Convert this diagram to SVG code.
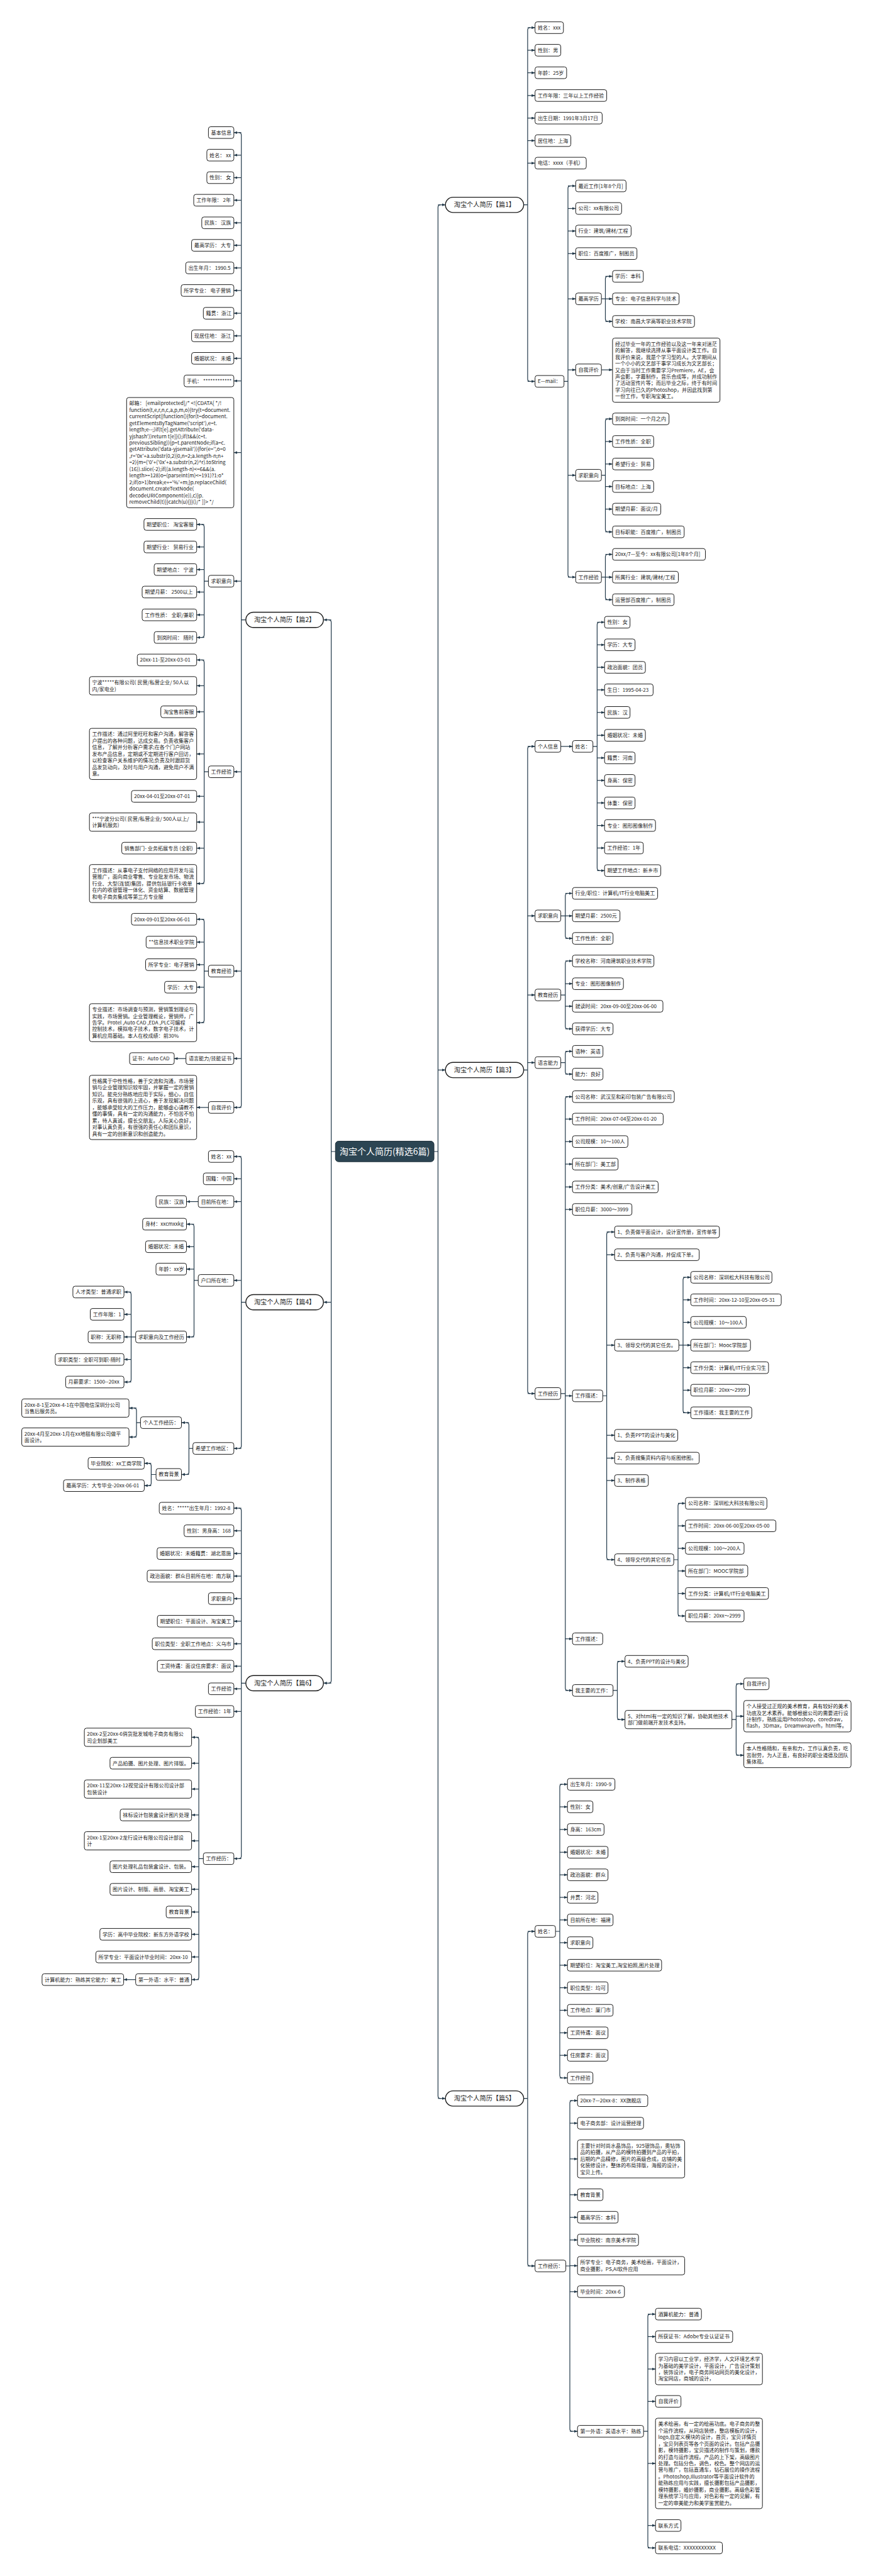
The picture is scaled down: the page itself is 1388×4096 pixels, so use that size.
<svg xmlns="http://www.w3.org/2000/svg" width="1388" height="4096" viewBox="0 0 1388 4096">
<style>
.n rect{fill:#fff;stroke:#1c1c1c;stroke-width:1;rx:3.5px;ry:3.5px}
text{font-family:"Noto Sans CJK SC","Noto Sans",sans-serif;font-size:8.1px;fill:#222}
.b rect{fill:#fff;stroke:#1c1c1c;stroke-width:1.4}
.b text{font-size:10.2px;text-anchor:middle}
#root rect{fill:#2c4553;stroke:#1c2e38;stroke-width:1}
#root text{font-size:14px;fill:#fff;text-anchor:middle}
.c path{stroke:#22394a;stroke-width:1.2;fill:none}
.c line{stroke:#22394a;stroke-width:1.2;marker-end:url(#ah)}
</style>
<defs>
<marker id="ah" viewBox="0 0 10 8" refX="10" refY="4" markerWidth="5.5" markerHeight="4.5" markerUnits="userSpaceOnUse" orient="auto"><path d="M0,0 L10,4 L0,8 z" fill="#22394a"/></marker>
</defs>
<rect width="1388" height="4096" fill="#fff"/>
<g class="c" id="connectors">
<path d="M690 1831H696.4M700.4 325.7Q696.4 325.7 696.4 329.7V3332.7Q696.4 3336.7 700.4 3336.7"/>
<path d="M533.3 1831H526.6M522.6 985.6Q526.6 985.6 526.6 989.6V2672.3Q526.6 2676.3 522.6 2676.3"/>
<line x1="696.4" y1="325.7" x2="708.2" y2="325.7"/><line x1="696.4" y1="1701.4" x2="708.2" y2="1701.4"/><line x1="696.4" y1="3336.7" x2="708.2" y2="3336.7"/>
<line x1="526.6" y1="985.6" x2="514.2" y2="985.6"/><line x1="526.6" y1="2070.6" x2="514.2" y2="2070.6"/><line x1="526.6" y1="2676.3" x2="514.2" y2="2676.3"/>
<!-- p1 -->
<path d="M832.6 325.7H838.9M842.9 44Q838.9 44 838.9 48V602.4Q838.9 606.4 842.9 606.4"/>
<line x1="838.9" y1="44" x2="850.7" y2="44"/><line x1="838.9" y1="79.9" x2="850.7" y2="79.9"/><line x1="838.9" y1="115.7" x2="850.7" y2="115.7"/><line x1="838.9" y1="151.9" x2="850.7" y2="151.9"/><line x1="838.9" y1="187.8" x2="850.7" y2="187.8"/><line x1="838.9" y1="223.6" x2="850.7" y2="223.6"/><line x1="838.9" y1="259.4" x2="850.7" y2="259.4"/><line x1="838.9" y1="606.4" x2="850.7" y2="606.4"/>
<path d="M896.7 606.4H903M907 295.6Q903 295.6 903 299.6V913.7Q903 917.7 907 917.7"/>
<line x1="903" y1="295.6" x2="915.3" y2="295.6"/><line x1="903" y1="331.5" x2="915.3" y2="331.5"/><line x1="903" y1="367.3" x2="915.3" y2="367.3"/><line x1="903" y1="403.2" x2="915.3" y2="403.2"/><line x1="903" y1="475.2" x2="915.3" y2="475.2"/><line x1="903" y1="588.1" x2="915.3" y2="588.1"/><line x1="903" y1="755.7" x2="915.3" y2="755.7"/><line x1="903" y1="917.7" x2="915.3" y2="917.7"/>
<path d="M956.2 475.2H962.5M966.5 439.4Q962.5 439.4 962.5 443.4V507.1Q962.5 511.1 966.5 511.1"/>
<line x1="962.5" y1="439.4" x2="973.9" y2="439.4"/><line x1="962.5" y1="475.2" x2="973.9" y2="475.2"/><line x1="962.5" y1="511.1" x2="973.9" y2="511.1"/>
<line x1="956.2" y1="588.1" x2="973.9" y2="588.1"/>
<path d="M956.2 755.7H962.5M966.5 666.1Q962.5 666.1 962.5 670.1V841.7Q962.5 845.7 966.5 845.7"/>
<line x1="962.5" y1="666.1" x2="973.9" y2="666.1"/><line x1="962.5" y1="702" x2="973.9" y2="702"/><line x1="962.5" y1="737.8" x2="973.9" y2="737.8"/><line x1="962.5" y1="773.6" x2="973.9" y2="773.6"/><line x1="962.5" y1="809.5" x2="973.9" y2="809.5"/><line x1="962.5" y1="845.7" x2="973.9" y2="845.7"/>
<path d="M956.2 917.7H962.5M966.5 881.5Q962.5 881.5 962.5 885.5V949.6Q962.5 953.6 966.5 953.6"/>
<line x1="962.5" y1="881.5" x2="973.9" y2="881.5"/><line x1="962.5" y1="917.7" x2="973.9" y2="917.7"/><line x1="962.5" y1="953.6" x2="973.9" y2="953.6"/>
<!-- p3 -->
<path d="M832.6 1701.4H838.9M842.9 1186.8Q838.9 1186.8 838.9 1190.8V2211.8Q838.9 2215.8 842.9 2215.8"/>
<line x1="838.9" y1="1186.8" x2="850.7" y2="1186.8"/><line x1="838.9" y1="1456.3" x2="850.7" y2="1456.3"/><line x1="838.9" y1="1582.1" x2="850.7" y2="1582.1"/><line x1="838.9" y1="1689.6" x2="850.7" y2="1689.6"/><line x1="838.9" y1="2215.8" x2="850.7" y2="2215.8"/>
<line x1="891.6" y1="1186.8" x2="910.2" y2="1186.8"/>
<path d="M942.7 1186.8H949.4M953.4 989.4Q949.4 989.4 949.4 993.4V1380.3Q949.4 1384.3 953.4 1384.3"/>
<line x1="949.4" y1="989.4" x2="961.2" y2="989.4"/><line x1="949.4" y1="1025.3" x2="961.2" y2="1025.3"/><line x1="949.4" y1="1061.1" x2="961.2" y2="1061.1"/><line x1="949.4" y1="1096.9" x2="961.2" y2="1096.9"/><line x1="949.4" y1="1132.8" x2="961.2" y2="1132.8"/><line x1="949.4" y1="1169.2" x2="961.2" y2="1169.2"/><line x1="949.4" y1="1205.1" x2="961.2" y2="1205.1"/><line x1="949.4" y1="1240.9" x2="961.2" y2="1240.9"/><line x1="949.4" y1="1276.7" x2="961.2" y2="1276.7"/><line x1="949.4" y1="1312.6" x2="961.2" y2="1312.6"/><line x1="949.4" y1="1348.4" x2="961.2" y2="1348.4"/><line x1="949.4" y1="1384.3" x2="961.2" y2="1384.3"/>
<path d="M891.6 1456.3H898.8M902.8 1420.5Q898.8 1420.5 898.8 1424.5V1488.1Q898.8 1492.1 902.8 1492.1"/>
<line x1="898.8" y1="1420.5" x2="910.2" y2="1420.5"/><line x1="898.8" y1="1456.3" x2="910.2" y2="1456.3"/><line x1="898.8" y1="1492.1" x2="910.2" y2="1492.1"/>
<path d="M891.6 1582.1H898.8M902.8 1528Q898.8 1528 898.8 1532V1631.9Q898.8 1635.9 902.8 1635.9"/>
<line x1="898.8" y1="1528" x2="910.2" y2="1528"/><line x1="898.8" y1="1564.2" x2="910.2" y2="1564.2"/><line x1="898.8" y1="1600" x2="910.2" y2="1600"/><line x1="898.8" y1="1635.9" x2="910.2" y2="1635.9"/>
<path d="M891.6 1689.6H898.8M902.8 1671.7Q898.8 1671.7 898.8 1675.7V1703.9Q898.8 1707.9 902.8 1707.9"/>
<line x1="898.8" y1="1671.7" x2="910.2" y2="1671.7"/><line x1="898.8" y1="1707.9" x2="910.2" y2="1707.9"/>
<path d="M891.6 2215.8H898.8M902.8 1743.8Q898.8 1743.8 898.8 1747.8V2683.9Q898.8 2687.9 902.8 2687.9"/>
<line x1="898.8" y1="1743.8" x2="910.2" y2="1743.8"/><line x1="898.8" y1="1779.4" x2="910.2" y2="1779.4"/><line x1="898.8" y1="1815.2" x2="910.2" y2="1815.2"/><line x1="898.8" y1="1851" x2="910.2" y2="1851"/><line x1="898.8" y1="1887.3" x2="910.2" y2="1887.3"/><line x1="898.8" y1="1923.1" x2="910.2" y2="1923.1"/><line x1="898.8" y1="2219.5" x2="910.2" y2="2219.5"/><line x1="898.8" y1="2605.8" x2="910.2" y2="2605.8"/><line x1="898.8" y1="2687.9" x2="910.2" y2="2687.9"/>
<path d="M958.3 2219.5H964.6M968.6 1958.9Q964.6 1958.9 964.6 1962.9V2476Q964.6 2480 968.6 2480"/>
<line x1="964.6" y1="1958.9" x2="977.2" y2="1958.9"/><line x1="964.6" y1="1995.1" x2="977.2" y2="1995.1"/><line x1="964.6" y1="2138.9" x2="977.2" y2="2138.9"/><line x1="964.6" y1="2282.2" x2="977.2" y2="2282.2"/><line x1="964.6" y1="2318.5" x2="977.2" y2="2318.5"/><line x1="964.6" y1="2354.1" x2="977.2" y2="2354.1"/><line x1="964.6" y1="2480" x2="977.2" y2="2480"/>
<path d="M1079.3 2138.9H1086M1090 2031Q1086 2031 1086 2035V2242.4Q1086 2246.4 1090 2246.4"/>
<line x1="1086" y1="2031" x2="1098.3" y2="2031"/><line x1="1086" y1="2066.8" x2="1098.3" y2="2066.8"/><line x1="1086" y1="2102.6" x2="1098.3" y2="2102.6"/><line x1="1086" y1="2138.9" x2="1098.3" y2="2138.9"/><line x1="1086" y1="2174.7" x2="1098.3" y2="2174.7"/><line x1="1086" y1="2210.5" x2="1098.3" y2="2210.5"/><line x1="1086" y1="2246.4" x2="1098.3" y2="2246.4"/>
<path d="M1071.2 2480H1078M1082 2390.4Q1078 2390.4 1078 2394.4V2565.5Q1078 2569.5 1082 2569.5"/>
<line x1="1078" y1="2390.4" x2="1089.8" y2="2390.4"/><line x1="1078" y1="2426.2" x2="1089.8" y2="2426.2"/><line x1="1078" y1="2462" x2="1089.8" y2="2462"/><line x1="1078" y1="2497.9" x2="1089.8" y2="2497.9"/><line x1="1078" y1="2533.7" x2="1089.8" y2="2533.7"/><line x1="1078" y1="2569.5" x2="1089.8" y2="2569.5"/>
<path d="M974.7 2687.9H981.5M985.5 2641.6Q981.5 2641.6 981.5 2645.6V2730.2Q981.5 2734.2 985.5 2734.2"/>
<line x1="981.5" y1="2641.6" x2="993.7" y2="2641.6"/><line x1="981.5" y1="2734.2" x2="993.7" y2="2734.2"/>
<path d="M1163.7 2734.2H1170.4M1174.4 2677.4Q1170.4 2677.4 1170.4 2681.4V2786.9Q1170.4 2790.9 1174.4 2790.9"/>
<line x1="1170.4" y1="2677.4" x2="1182.6" y2="2677.4"/><line x1="1170.4" y1="2728.9" x2="1182.6" y2="2728.9"/><line x1="1170.4" y1="2790.9" x2="1182.6" y2="2790.9"/>
<!-- p5 -->
<path d="M832.6 3336.7H838.9M842.9 3071Q838.9 3071 838.9 3075V3599Q838.9 3603 842.9 3603"/>
<line x1="838.9" y1="3071" x2="850.7" y2="3071"/><line x1="838.9" y1="3603" x2="850.7" y2="3603"/>
<path d="M883.2 3071H890M894 2837.2Q890 2837.2 890 2841.2V3300Q890 3304 894 3304"/>
<line x1="890" y1="2837.2" x2="902.2" y2="2837.2"/><line x1="890" y1="2873" x2="902.2" y2="2873"/><line x1="890" y1="2909" x2="902.2" y2="2909"/><line x1="890" y1="2945.2" x2="902.2" y2="2945.2"/><line x1="890" y1="2981.1" x2="902.2" y2="2981.1"/><line x1="890" y1="3016.9" x2="902.2" y2="3016.9"/><line x1="890" y1="3052.8" x2="902.2" y2="3052.8"/><line x1="890" y1="3089" x2="902.2" y2="3089"/><line x1="890" y1="3124.8" x2="902.2" y2="3124.8"/><line x1="890" y1="3160.6" x2="902.2" y2="3160.6"/><line x1="890" y1="3196.5" x2="902.2" y2="3196.5"/><line x1="890" y1="3232.3" x2="902.2" y2="3232.3"/><line x1="890" y1="3268.1" x2="902.2" y2="3268.1"/><line x1="890" y1="3304" x2="902.2" y2="3304"/>
<path d="M899.6 3603H906M910 3340.2Q906 3340.2 906 3344.2V3861.9Q906 3865.9 910 3865.9"/>
<line x1="906" y1="3340.2" x2="918.2" y2="3340.2"/><line x1="906" y1="3376" x2="918.2" y2="3376"/><line x1="906" y1="3432.8" x2="918.2" y2="3432.8"/><line x1="906" y1="3489.8" x2="918.2" y2="3489.8"/><line x1="906" y1="3525.6" x2="918.2" y2="3525.6"/><line x1="906" y1="3561.7" x2="918.2" y2="3561.7"/><line x1="906" y1="3602.6" x2="918.2" y2="3602.6"/><line x1="906" y1="3643.9" x2="918.2" y2="3643.9"/><line x1="906" y1="3865.9" x2="918.2" y2="3865.9"/>
<path d="M1023.2 3865.9H1030M1034 3679.6Q1030 3679.6 1030 3683.6V4047.4Q1030 4051.4 1034 4051.4"/>
<line x1="1030" y1="3679.6" x2="1042.2" y2="3679.6"/><line x1="1030" y1="3715.4" x2="1042.2" y2="3715.4"/><line x1="1030" y1="3766.9" x2="1042.2" y2="3766.9"/><line x1="1030" y1="3818.4" x2="1042.2" y2="3818.4"/><line x1="1030" y1="3917" x2="1042.2" y2="3917"/><line x1="1030" y1="4015.7" x2="1042.2" y2="4015.7"/><line x1="1030" y1="4051.4" x2="1042.2" y2="4051.4"/>
<!-- p2 -->
<path d="M390.9 985.6H383.7M379.7 210.8Q383.7 210.8 383.7 214.8V1756.9Q383.7 1760.9 379.7 1760.9"/>
<line x1="383.7" y1="210.8" x2="371.8" y2="210.8"/><line x1="383.7" y1="246.7" x2="371.8" y2="246.7"/><line x1="383.7" y1="282.5" x2="371.8" y2="282.5"/><line x1="383.7" y1="318.4" x2="371.8" y2="318.4"/><line x1="383.7" y1="354.3" x2="371.8" y2="354.3"/><line x1="383.7" y1="390.1" x2="371.8" y2="390.1"/><line x1="383.7" y1="426" x2="371.8" y2="426"/><line x1="383.7" y1="461.9" x2="371.8" y2="461.9"/><line x1="383.7" y1="498.1" x2="371.8" y2="498.1"/><line x1="383.7" y1="534" x2="371.8" y2="534"/><line x1="383.7" y1="569.8" x2="371.8" y2="569.8"/><line x1="383.7" y1="605.7" x2="371.8" y2="605.7"/><line x1="383.7" y1="719.6" x2="371.8" y2="719.6"/><line x1="383.7" y1="924.1" x2="371.8" y2="924.1"/><line x1="383.7" y1="1227.2" x2="371.8" y2="1227.2"/><line x1="383.7" y1="1544.1" x2="371.8" y2="1544.1"/><line x1="383.7" y1="1683.2" x2="371.8" y2="1683.2"/><line x1="383.7" y1="1760.9" x2="371.8" y2="1760.9"/>
<path d="M331.4 924.1H324.6M320.6 833.9Q324.6 833.9 324.6 837.9V1009.6Q324.6 1013.6 320.6 1013.6"/>
<line x1="324.6" y1="833.9" x2="312.7" y2="833.9"/><line x1="324.6" y1="869.7" x2="312.7" y2="869.7"/><line x1="324.6" y1="905.6" x2="312.7" y2="905.6"/><line x1="324.6" y1="941.4" x2="312.7" y2="941.4"/><line x1="324.6" y1="977.7" x2="312.7" y2="977.7"/><line x1="324.6" y1="1013.6" x2="312.7" y2="1013.6"/>
<path d="M331.4 1227.2H324.6M320.6 1049.4Q324.6 1049.4 324.6 1053.4V1400.9Q324.6 1404.9 320.6 1404.9"/>
<line x1="324.6" y1="1049.4" x2="312.7" y2="1049.4"/><line x1="324.6" y1="1090.4" x2="312.7" y2="1090.4"/><line x1="324.6" y1="1131.8" x2="312.7" y2="1131.8"/><line x1="324.6" y1="1198.8" x2="312.7" y2="1198.8"/><line x1="324.6" y1="1266.2" x2="312.7" y2="1266.2"/><line x1="324.6" y1="1307.2" x2="312.7" y2="1307.2"/><line x1="324.6" y1="1348.6" x2="312.7" y2="1348.6"/><line x1="324.6" y1="1404.9" x2="312.7" y2="1404.9"/>
<path d="M331.4 1544.1H324.6M320.6 1461.7Q324.6 1461.7 324.6 1465.7V1622.1Q324.6 1626.1 320.6 1626.1"/>
<line x1="324.6" y1="1461.7" x2="312.7" y2="1461.7"/><line x1="324.6" y1="1498" x2="312.7" y2="1498"/><line x1="324.6" y1="1533.9" x2="312.7" y2="1533.9"/><line x1="324.6" y1="1569.7" x2="312.7" y2="1569.7"/><line x1="324.6" y1="1626.1" x2="312.7" y2="1626.1"/>
<line x1="295.7" y1="1683.2" x2="277" y2="1683.2"/>
<line x1="331.4" y1="1760.9" x2="312.7" y2="1760.9"/>
<!-- p4 -->
<path d="M390.9 2070.6H383.7M379.7 1838.9Q383.7 1838.9 383.7 1842.9V2299.1Q383.7 2303.1 379.7 2303.1"/>
<line x1="383.7" y1="1838.9" x2="371.8" y2="1838.9"/><line x1="383.7" y1="1874.4" x2="371.8" y2="1874.4"/><line x1="383.7" y1="1910.6" x2="371.8" y2="1910.6"/><line x1="383.7" y1="2035.9" x2="371.8" y2="2035.9"/><line x1="383.7" y1="2303.1" x2="371.8" y2="2303.1"/>
<line x1="315.2" y1="1910.6" x2="296.5" y2="1910.6"/>
<path d="M315.2 2035.9H308.5M304.5 1946.5Q308.5 1946.5 308.5 1950.5V2121.8Q308.5 2125.8 304.5 2125.8"/>
<line x1="308.5" y1="1946.5" x2="296.5" y2="1946.5"/><line x1="308.5" y1="1982.3" x2="296.5" y2="1982.3"/><line x1="308.5" y1="2018" x2="296.5" y2="2018"/><line x1="308.5" y1="2125.8" x2="296.5" y2="2125.8"/>
<path d="M215.7 2125.8H208.5M204.5 2054.4Q208.5 2054.4 208.5 2058.4V2193.5Q208.5 2197.5 204.5 2197.5"/>
<line x1="208.5" y1="2054.4" x2="197.1" y2="2054.4"/><line x1="208.5" y1="2089.9" x2="197.1" y2="2089.9"/><line x1="208.5" y1="2125.8" x2="197.1" y2="2125.8"/><line x1="208.5" y1="2161.6" x2="197.1" y2="2161.6"/><line x1="208.5" y1="2197.5" x2="197.1" y2="2197.5"/>
<path d="M306.7 2303.1H300.4M296.4 2262.1Q300.4 2262.1 300.4 2266.1V2340.5Q300.4 2344.5 296.4 2344.5"/>
<line x1="300.4" y1="2262.1" x2="288.5" y2="2262.1"/><line x1="300.4" y1="2344.5" x2="288.5" y2="2344.5"/>
<path d="M223.4 2262.1H217M213 2238.9Q217 2238.9 217 2242.9V2281Q217 2285 213 2285"/>
<line x1="217" y1="2238.9" x2="205.1" y2="2238.9"/><line x1="217" y1="2285" x2="205.1" y2="2285"/>
<path d="M248.1 2344.5H240.4M236.4 2326.8Q240.4 2326.8 240.4 2330.8V2358.2Q240.4 2362.2 236.4 2362.2"/>
<line x1="240.4" y1="2326.8" x2="229.4" y2="2326.8"/><line x1="240.4" y1="2362.2" x2="229.4" y2="2362.2"/>
<!-- p6 -->
<path d="M390.9 2676.3H383.7M379.7 2398.1Q383.7 2398.1 383.7 2402.1V2951.3Q383.7 2955.3 379.7 2955.3"/>
<line x1="383.7" y1="2398.1" x2="371.8" y2="2398.1"/><line x1="383.7" y1="2434" x2="371.8" y2="2434"/><line x1="383.7" y1="2470.2" x2="371.8" y2="2470.2"/><line x1="383.7" y1="2506.1" x2="371.8" y2="2506.1"/><line x1="383.7" y1="2541.9" x2="371.8" y2="2541.9"/><line x1="383.7" y1="2577.8" x2="371.8" y2="2577.8"/><line x1="383.7" y1="2613.7" x2="371.8" y2="2613.7"/><line x1="383.7" y1="2649.3" x2="371.8" y2="2649.3"/><line x1="383.7" y1="2685.3" x2="371.8" y2="2685.3"/><line x1="383.7" y1="2721.3" x2="371.8" y2="2721.3"/><line x1="383.7" y1="2955.3" x2="371.8" y2="2955.3"/>
<path d="M323.3 2955.3H316.1M312.1 2762.4Q316.1 2762.4 316.1 2766.4V3143.7Q316.1 3147.7 312.1 3147.7"/>
<line x1="316.1" y1="2762.4" x2="304.6" y2="2762.4"/><line x1="316.1" y1="2803.6" x2="304.6" y2="2803.6"/><line x1="316.1" y1="2844.7" x2="304.6" y2="2844.7"/><line x1="316.1" y1="2885.9" x2="304.6" y2="2885.9"/><line x1="316.1" y1="2927" x2="304.6" y2="2927"/><line x1="316.1" y1="2968.2" x2="304.6" y2="2968.2"/><line x1="316.1" y1="3004.1" x2="304.6" y2="3004.1"/><line x1="316.1" y1="3040.2" x2="304.6" y2="3040.2"/><line x1="316.1" y1="3075.7" x2="304.6" y2="3075.7"/><line x1="316.1" y1="3111.7" x2="304.6" y2="3111.7"/><line x1="316.1" y1="3147.7" x2="304.6" y2="3147.7"/>
<line x1="215.7" y1="3147.7" x2="196.6" y2="3147.7"/>
</g>

<g id="root"><rect x="533.3" y="1814.6" width="156.7" height="32.6" rx="5"/><text x="611.7" y="1836">淘宝个人简历(精选6篇)</text></g>

<!-- ===== 篇1 ===== -->
<g id="p1" class="b"><rect x="708.2" y="313.6" width="124.4" height="24.3" rx="12.1"/><text x="770.4" y="329.3">淘宝个人简历【篇1】</text></g>
<g class="n" id="p1-1"><rect x="850.7" y="34.7" width="45.1" height="18.6"/><text x="854.9" y="46.9">姓名：xxx</text></g>
<g class="n" id="p1-2"><rect x="850.7" y="70.6" width="40.9" height="18.6"/><text x="854.9" y="82.8">性别：男</text></g>
<g class="n" id="p1-3"><rect x="850.7" y="106.4" width="50.2" height="18.6"/><text x="854.9" y="118.6">年龄：25岁</text></g>
<g class="n" id="p1-4"><rect x="850.7" y="142.6" width="113.9" height="18.6"/><text x="854.9" y="154.8">工作年限：三年以上工作经验</text></g>
<g class="n" id="p1-5"><rect x="850.7" y="178.5" width="106.7" height="18.6"/><text x="854.9" y="190.7">出生日期：1991年3月17日</text></g>
<g class="n" id="p1-6"><rect x="850.7" y="214.3" width="56.9" height="18.6"/><text x="854.9" y="226.5">居住地：上海</text></g>
<g class="n" id="p1-7"><rect x="850.7" y="250.1" width="81.4" height="18.6"/><text x="854.9" y="262.3">电话：xxxx（手机）</text></g>
<g class="n" id="p1-8"><rect x="850.7" y="597.1" width="46" height="18.6"/><text x="854.9" y="609.3">E—mail：</text></g>
<g class="n" id="p1-8-1"><rect x="915.3" y="286.3" width="80.1" height="18.6"/><text x="919.5" y="298.5">最近工作[1年8个月]</text></g>
<g class="n" id="p1-8-2"><rect x="915.3" y="322.2" width="73" height="18.6"/><text x="919.5" y="334.4">公司：xx有限公司</text></g>
<g class="n" id="p1-8-3"><rect x="915.3" y="358" width="88.1" height="18.6"/><text x="919.5" y="370.2">行业：建筑/建材/工程</text></g>
<g class="n" id="p1-8-4"><rect x="915.3" y="393.9" width="97.4" height="18.6"/><text x="919.5" y="406.1">职位：百度推广，制图员</text></g>
<g class="n" id="p1-8-5"><rect x="915.3" y="465.9" width="40.9" height="18.6"/><text x="919.5" y="478.1">最高学历</text></g>
<g class="n" id="p1-8-6"><rect x="915.3" y="578.8" width="40.9" height="18.6"/><text x="919.5" y="591">自我评价</text></g>
<g class="n" id="p1-8-7"><rect x="915.3" y="746.4" width="40.9" height="18.6"/><text x="919.5" y="758.6">求职意向</text></g>
<g class="n" id="p1-8-8"><rect x="915.3" y="908.4" width="40.9" height="18.6"/><text x="919.5" y="920.6">工作经验</text></g>
<g class="n" id="p1-e1"><rect x="973.9" y="430.1" width="48.9" height="18.6"/><text x="978.1" y="442.3">学历：本科</text></g>
<g class="n" id="p1-e2"><rect x="973.9" y="465.9" width="105.8" height="18.6"/><text x="978.1" y="478.1">专业：电子信息科学与技术</text></g>
<g class="n" id="p1-e3"><rect x="973.9" y="501.8" width="130.3" height="18.6"/><text x="978.1" y="514">学校：南昌大学高等职业技术学院</text></g>
<g class="n" id="p1-s1"><rect x="973.9" y="537.6" width="170.8" height="102"/><text><tspan x="978.1" y="549.8">经过毕业一年的工作经验以及这一年来对迷茫</tspan><tspan x="978.1" y="560.2">的解答，我继续选择从事平面设计类工作。自</tspan><tspan x="978.1" y="570.7">我评价来说，我是个学习型的人。大学期间从</tspan><tspan x="978.1" y="581.1">一个小小的文艺部干事学习成长为文艺部长；</tspan><tspan x="978.1" y="591.6">又由于当时工作需要学习Premiere，AE，会</tspan><tspan x="978.1" y="602">声会影，字幕制作，音乐合成等，并成功制作</tspan><tspan x="978.1" y="612.4">了活动宣传片等；而后毕业之际，终于有时间</tspan><tspan x="978.1" y="622.9">学习向往已久的Photoshop，并因此找到第</tspan><tspan x="978.1" y="633.3">一份工作，专职淘宝美工。</tspan></text></g>
<g class="n" id="p1-q1"><rect x="973.9" y="656.8" width="89.8" height="18.6"/><text x="978.1" y="669">到岗时间：一个月之内</text></g>
<g class="n" id="p1-q2"><rect x="973.9" y="692.7" width="65.4" height="18.6"/><text x="978.1" y="704.9">工作性质：全职</text></g>
<g class="n" id="p1-q3"><rect x="973.9" y="728.5" width="65.4" height="18.6"/><text x="978.1" y="740.7">希望行业：贸易</text></g>
<g class="n" id="p1-q4"><rect x="973.9" y="764.3" width="65.4" height="18.6"/><text x="978.1" y="776.5">目标地点：上海</text></g>
<g class="n" id="p1-q5"><rect x="973.9" y="800.2" width="76.7" height="18.6"/><text x="978.1" y="812.4">期望月薪：面议/月</text></g>
<g class="n" id="p1-q6"><rect x="973.9" y="836.4" width="113.9" height="18.6"/><text x="978.1" y="848.6">目标职能：百度推广，制图员</text></g>
<g class="n" id="p1-w1"><rect x="973.9" y="872.2" width="147.6" height="18.6"/><text x="978.1" y="884.4">20xx/7—至今：xx有限公司[1年8个月]</text></g>
<g class="n" id="p1-w2"><rect x="973.9" y="908.4" width="104.6" height="18.6"/><text x="978.1" y="920.6">所属行业：建筑/建材/工程</text></g>
<g class="n" id="p1-w3"><rect x="973.9" y="944.3" width="97.8" height="18.6"/><text x="978.1" y="956.5">运营部百度推广，制图员</text></g>

<!-- ===== 篇3 ===== -->
<g id="p3" class="b"><rect x="708.2" y="1689.3" width="124.4" height="24.3" rx="12.1"/><text x="770.4" y="1705">淘宝个人简历【篇3】</text></g>
<g class="n" id="p3-1"><rect x="850.7" y="1177.5" width="40.9" height="18.6"/><text x="854.9" y="1189.7">个人信息</text></g>
<g class="n" id="p3-2"><rect x="850.7" y="1447" width="40.9" height="18.6"/><text x="854.9" y="1459.2">求职意向</text></g>
<g class="n" id="p3-3"><rect x="850.7" y="1572.8" width="40.9" height="18.6"/><text x="854.9" y="1585">教育经历</text></g>
<g class="n" id="p3-4"><rect x="850.7" y="1680.3" width="40.9" height="18.6"/><text x="854.9" y="1692.5">语言能力</text></g>
<g class="n" id="p3-5"><rect x="850.7" y="2206.5" width="40.9" height="18.6"/><text x="854.9" y="2218.7">工作经历</text></g>
<g class="n" id="p3-1-1"><rect x="910.2" y="1177.5" width="32.5" height="18.6"/><text x="914.4" y="1189.7">姓名：</text></g>
<g class="n" id="p3-i1"><rect x="961.2" y="980.1" width="40.5" height="18.6"/><text x="965.4" y="992.3">性别：女</text></g>
<g class="n" id="p3-i2"><rect x="961.2" y="1016" width="48.5" height="18.6"/><text x="965.4" y="1028.2">学历：大专</text></g>
<g class="n" id="p3-i3"><rect x="961.2" y="1051.8" width="64.9" height="18.6"/><text x="965.4" y="1064">政治面貌：团员</text></g>
<g class="n" id="p3-i4"><rect x="961.2" y="1087.6" width="77.2" height="18.6"/><text x="965.4" y="1099.8">生日：1995-04-23</text></g>
<g class="n" id="p3-i5"><rect x="961.2" y="1123.5" width="40.5" height="18.6"/><text x="965.4" y="1135.7">民族：汉</text></g>
<g class="n" id="p3-i6"><rect x="961.2" y="1159.9" width="64.9" height="18.6"/><text x="965.4" y="1172.1">婚姻状况：未婚</text></g>
<g class="n" id="p3-i7"><rect x="961.2" y="1195.8" width="48.5" height="18.6"/><text x="965.4" y="1208">籍贯：河南</text></g>
<g class="n" id="p3-i8"><rect x="961.2" y="1231.6" width="48.5" height="18.6"/><text x="965.4" y="1243.8">身高：保密</text></g>
<g class="n" id="p3-i9"><rect x="961.2" y="1267.4" width="48.5" height="18.6"/><text x="965.4" y="1279.6">体重：保密</text></g>
<g class="n" id="p3-i10"><rect x="961.2" y="1303.3" width="81" height="18.6"/><text x="965.4" y="1315.5">专业：图形图像制作</text></g>
<g class="n" id="p3-i11"><rect x="961.2" y="1339.1" width="61.6" height="18.6"/><text x="965.4" y="1351.3">工作经验：1年</text></g>
<g class="n" id="p3-i12"><rect x="961.2" y="1375" width="89.4" height="18.6"/><text x="965.4" y="1387.2">期望工作地点：新乡市</text></g>
<g class="n" id="p3-q1"><rect x="910.2" y="1411.2" width="135.4" height="18.6"/><text x="914.4" y="1423.4">行业/职位：计算机/IT行业电脑美工</text></g>
<g class="n" id="p3-q2"><rect x="910.2" y="1447" width="75.5" height="18.6"/><text x="914.4" y="1459.2">期望月薪：2500元</text></g>
<g class="n" id="p3-q3"><rect x="910.2" y="1482.8" width="64.5" height="18.6"/><text x="914.4" y="1495">工作性质：全职</text></g>
<g class="n" id="p3-e1"><rect x="910.2" y="1518.7" width="129.5" height="18.6"/><text x="914.4" y="1530.9">学校名称：河南建筑职业技术学院</text></g>
<g class="n" id="p3-e2"><rect x="910.2" y="1554.9" width="81" height="18.6"/><text x="914.4" y="1567.1">专业：图形图像制作</text></g>
<g class="n" id="p3-e3"><rect x="910.2" y="1590.7" width="143.8" height="18.6"/><text x="914.4" y="1602.9">就读时间：20xx-09-00至20xx-06-00</text></g>
<g class="n" id="p3-e4"><rect x="910.2" y="1626.6" width="64.5" height="18.6"/><text x="914.4" y="1638.8">获得学历：大专</text></g>
<g class="n" id="p3-l1"><rect x="910.2" y="1662.4" width="48.5" height="18.6"/><text x="914.4" y="1674.6">语种：英语</text></g>
<g class="n" id="p3-l2"><rect x="910.2" y="1698.6" width="48.5" height="18.6"/><text x="914.4" y="1710.8">能力：良好</text></g>
<g class="n" id="p3-w1"><rect x="910.2" y="1734.5" width="161.9" height="18.6"/><text x="914.4" y="1746.7">公司名称：武汉至和彩印包装广告有限公司</text></g>
<g class="n" id="p3-w2"><rect x="910.2" y="1770.1" width="144.2" height="18.6"/><text x="914.4" y="1782.3">工作时间：20xx-07-04至20xx-01-20</text></g>
<g class="n" id="p3-w3"><rect x="910.2" y="1805.9" width="88.1" height="18.6"/><text x="914.4" y="1818.1">公司规模：10～100人</text></g>
<g class="n" id="p3-w4"><rect x="910.2" y="1841.7" width="72.5" height="18.6"/><text x="914.4" y="1853.9">所在部门：美工部</text></g>
<g class="n" id="p3-w5"><rect x="910.2" y="1878" width="136.2" height="18.6"/><text x="914.4" y="1890.2">工作分类：美术/创意/广告设计美工</text></g>
<g class="n" id="p3-w6"><rect x="910.2" y="1913.8" width="94.5" height="18.6"/><text x="914.4" y="1926">职位月薪：3000～3999</text></g>
<g class="n" id="p3-w7"><rect x="910.2" y="2210.2" width="48.1" height="18.6"/><text x="914.4" y="2222.4">工作描述：</text></g>
<g class="n" id="p3-w8"><rect x="910.2" y="2596.5" width="48.1" height="18.6"/><text x="914.4" y="2608.7">工作描述：</text></g>
<g class="n" id="p3-w9"><rect x="910.2" y="2678.6" width="64.5" height="18.6"/><text x="914.4" y="2690.8">我主要的工作：</text></g>
<g class="n" id="p3-d1"><rect x="977.2" y="1949.6" width="166.6" height="18.6"/><text x="981.4" y="1961.8">1、负责做平面设计，设计宣传册，宣传单等</text></g>
<g class="n" id="p3-d2"><rect x="977.2" y="1985.8" width="134.5" height="18.6"/><text x="981.4" y="1998">2、负责与客户沟通，并促成下单。</text></g>
<g class="n" id="p3-d3"><rect x="977.2" y="2129.6" width="102.1" height="18.6"/><text x="981.4" y="2141.8">3、领导交代的其它任务。</text></g>
<g class="n" id="p3-d4"><rect x="977.2" y="2272.9" width="100.4" height="18.6"/><text x="981.4" y="2285.1">1、负责PPT的设计与美化</text></g>
<g class="n" id="p3-d5"><rect x="977.2" y="2309.2" width="134.5" height="18.6"/><text x="981.4" y="2321.4">2、负责搜集资料内容与抠图修图。</text></g>
<g class="n" id="p3-d6"><rect x="977.2" y="2344.8" width="53.6" height="18.6"/><text x="981.4" y="2357">3、制作表格</text></g>
<g class="n" id="p3-d7"><rect x="977.2" y="2470.7" width="94" height="18.6"/><text x="981.4" y="2482.9">4、领导交代的其它任务</text></g>
<g class="n" id="p3-a1"><rect x="1098.3" y="2021.7" width="129" height="18.6"/><text x="1102.5" y="2033.9">公司名称：深圳松大科技有限公司</text></g>
<g class="n" id="p3-a2"><rect x="1098.3" y="2057.5" width="143.8" height="18.6"/><text x="1102.5" y="2069.7">工作时间：20xx-12-10至20xx-05-31</text></g>
<g class="n" id="p3-a3"><rect x="1098.3" y="2093.3" width="88.1" height="18.6"/><text x="1102.5" y="2105.5">公司规模：10～100人</text></g>
<g class="n" id="p3-a4"><rect x="1098.3" y="2129.6" width="94.9" height="18.6"/><text x="1102.5" y="2141.8">所在部门：Mooc学院部</text></g>
<g class="n" id="p3-a5"><rect x="1098.3" y="2165.4" width="123.6" height="18.6"/><text x="1102.5" y="2177.6">工作分类：计算机/IT行业实习生</text></g>
<g class="n" id="p3-a6"><rect x="1098.3" y="2201.2" width="93.2" height="18.6"/><text x="1102.5" y="2213.4">职位月薪：20xx～2999</text></g>
<g class="n" id="p3-a7"><rect x="1098.3" y="2237.1" width="97" height="18.6"/><text x="1102.5" y="2249.3">工作描述：我主要的工作</text></g>
<g class="n" id="p3-b1"><rect x="1089.8" y="2381.1" width="129.5" height="18.6"/><text x="1094" y="2393.3">公司名称：深圳松大科技有限公司</text></g>
<g class="n" id="p3-b2"><rect x="1089.8" y="2416.9" width="143.8" height="18.6"/><text x="1094" y="2429.1">工作时间：20xx-06-00至20xx-05-00</text></g>
<g class="n" id="p3-b3"><rect x="1089.8" y="2452.7" width="93.2" height="18.6"/><text x="1094" y="2464.9">公司规模：100～200人</text></g>
<g class="n" id="p3-b4"><rect x="1089.8" y="2488.6" width="99.1" height="18.6"/><text x="1094" y="2500.8">所在部门：MOOC学院部</text></g>
<g class="n" id="p3-b5"><rect x="1089.8" y="2524.4" width="132" height="18.6"/><text x="1094" y="2536.6">工作分类：计算机/IT行业电脑美工</text></g>
<g class="n" id="p3-b6"><rect x="1089.8" y="2560.2" width="93.2" height="18.6"/><text x="1094" y="2572.4">职位月薪：20xx～2999</text></g>
<g class="n" id="p3-m1"><rect x="993.7" y="2632.3" width="100.4" height="18.6"/><text x="997.9" y="2644.5">4、负责PPT的设计与美化</text></g>
<g class="n" id="p3-m2"><rect x="993.7" y="2719.65" width="170" height="29.1"/><text><tspan x="997.9" y="2731.85">5、对html有一定的知识了解，协助其他技术</tspan><tspan x="997.9" y="2742.3">部门做前端开发技术支持。</tspan></text></g>
<g class="n" id="p3-m2-1"><rect x="1182.6" y="2668.1" width="40.1" height="18.6"/><text x="1186.8" y="2680.3">自我评价</text></g>
<g class="n" id="p3-m2-2"><rect x="1182.6" y="2703.9" width="170.5" height="50"/><text><tspan x="1186.8" y="2716.1">个人接受过正规的美术教育，具有较好的美术</tspan><tspan x="1186.8" y="2726.5">功底及艺术素养。能够根据公司的需要进行设</tspan><tspan x="1186.8" y="2737">计制作，熟练运用Photoshop，coredraw，</tspan><tspan x="1186.8" y="2747.4">flash，3Dmax，Dreamweaverh，html等。</tspan></text></g>
<g class="n" id="p3-m2-3"><rect x="1182.6" y="2771.15" width="170.5" height="39.5"/><text><tspan x="1186.8" y="2783.35">本人性格随和，有亲和力，工作认真负责，吃</tspan><tspan x="1186.8" y="2793.8">苦耐劳，为人正直，有良好的职业道德及团队</tspan><tspan x="1186.8" y="2804.2">集体观。</tspan></text></g>

<!-- ===== 篇5 ===== -->
<g id="p5" class="b"><rect x="708.2" y="3324.6" width="124.4" height="24.3" rx="12.1"/><text x="770.4" y="3340.3">淘宝个人简历【篇5】</text></g>
<g class="n" id="p5-1"><rect x="850.7" y="3061.7" width="32.5" height="18.6"/><text x="854.9" y="3073.9">姓名：</text></g>
<g class="n" id="p5-2"><rect x="850.7" y="3593.7" width="48.9" height="18.6"/><text x="854.9" y="3605.9">工作经历：</text></g>
<g class="n" id="p5-n1"><rect x="902.2" y="2827.9" width="75.5" height="18.6"/><text x="906.4" y="2840.1">出生年月：1990-9</text></g>
<g class="n" id="p5-n2"><rect x="902.2" y="2863.7" width="40.5" height="18.6"/><text x="906.4" y="2875.9">性别：女</text></g>
<g class="n" id="p5-n3"><rect x="902.2" y="2899.7" width="58.2" height="18.6"/><text x="906.4" y="2911.9">身高：163cm</text></g>
<g class="n" id="p5-n4"><rect x="902.2" y="2935.9" width="64.5" height="18.6"/><text x="906.4" y="2948.1">婚姻状况：未婚</text></g>
<g class="n" id="p5-n5"><rect x="902.2" y="2971.8" width="64.5" height="18.6"/><text x="906.4" y="2984">政治面貌：群众</text></g>
<g class="n" id="p5-n6"><rect x="902.2" y="3007.6" width="48.5" height="18.6"/><text x="906.4" y="3019.8">井贯：河北</text></g>
<g class="n" id="p5-n7"><rect x="902.2" y="3043.5" width="72.5" height="18.6"/><text x="906.4" y="3055.7">目前所在地：福建</text></g>
<g class="n" id="p5-n8"><rect x="902.2" y="3079.7" width="40.5" height="18.6"/><text x="906.4" y="3091.9">求职意向</text></g>
<g class="n" id="p5-n9"><rect x="902.2" y="3115.5" width="149.7" height="18.6"/><text x="906.4" y="3127.7">期望职位：淘宝美工,淘宝拍照,图片处理</text></g>
<g class="n" id="p5-n10"><rect x="902.2" y="3151.3" width="64.5" height="18.6"/><text x="906.4" y="3163.5">职位类型：均可</text></g>
<g class="n" id="p5-n11"><rect x="902.2" y="3187.2" width="72.5" height="18.6"/><text x="906.4" y="3199.4">工作地点：厦门市</text></g>
<g class="n" id="p5-n12"><rect x="902.2" y="3223" width="64.5" height="18.6"/><text x="906.4" y="3235.2">工资待遇：面议</text></g>
<g class="n" id="p5-n13"><rect x="902.2" y="3258.8" width="64.5" height="18.6"/><text x="906.4" y="3271">住房要求：面议</text></g>
<g class="n" id="p5-n14"><rect x="902.2" y="3294.7" width="40.5" height="18.6"/><text x="906.4" y="3306.9">工作经验</text></g>
<g class="n" id="p5-w1"><rect x="918.2" y="3330.9" width="111.7" height="18.6"/><text x="922.4" y="3343.1">20xx-7—20xx-8：XX旗舰店</text></g>
<g class="n" id="p5-w2"><rect x="918.2" y="3366.7" width="105" height="18.6"/><text x="922.4" y="3378.9">电子商务部：设计运营经理</text></g>
<g class="n" id="p5-w3"><rect x="918.2" y="3402.6" width="170.4" height="60.4"/><text><tspan x="922.4" y="3414.8">主要针对时尚水晶饰品，925银饰品，奥钻饰</tspan><tspan x="922.4" y="3425.2">品的拍摄，从产品的模特拍摄到产品的平拍，</tspan><tspan x="922.4" y="3435.7">后期的产品精修，图片的高级合成，店铺的美</tspan><tspan x="922.4" y="3446.1">化装修设计，整体的布局排版，海报的设计，</tspan><tspan x="922.4" y="3456.6">宝贝上传。</tspan></text></g>
<g class="n" id="p5-w4"><rect x="918.2" y="3480.5" width="40.5" height="18.6"/><text x="922.4" y="3492.7">教育背景</text></g>
<g class="n" id="p5-w5"><rect x="918.2" y="3516.3" width="64.5" height="18.6"/><text x="922.4" y="3528.5">最高学历：本科</text></g>
<g class="n" id="p5-w6"><rect x="918.2" y="3552.4" width="97" height="18.6"/><text x="922.4" y="3564.6">毕业院校：南京美术学院</text></g>
<g class="n" id="p5-w7"><rect x="918.2" y="3588.05" width="170.4" height="29.1"/><text><tspan x="922.4" y="3600.25">所学专业：电子商务，美术绘画，平面设计，</tspan><tspan x="922.4" y="3610.7">商业摄影，PS,AI软件应用</tspan></text></g>
<g class="n" id="p5-w8"><rect x="918.2" y="3634.6" width="74.6" height="18.6"/><text x="922.4" y="3646.8">毕业时间：20xx-6</text></g>
<g class="n" id="p5-w9"><rect x="918.2" y="3856.6" width="105" height="18.6"/><text x="922.4" y="3868.8">第一外语：英语水平：熟练</text></g>
<g class="n" id="p5-f1"><rect x="1042.2" y="3670.3" width="73" height="18.6"/><text x="1046.4" y="3682.5">酒算机能力：普通</text></g>
<g class="n" id="p5-f2"><rect x="1042.2" y="3706.1" width="122.7" height="18.6"/><text x="1046.4" y="3718.3">所获证书：Adobe专业认证证书</text></g>
<g class="n" id="p5-f3"><rect x="1042.2" y="3741.9" width="170" height="50"/><text><tspan x="1046.4" y="3754.1">学习内容以工业学，经济学，人文环境艺术学</tspan><tspan x="1046.4" y="3764.5">为基础的美学设计，平面设计，广告设计策划</tspan><tspan x="1046.4" y="3775">，装饰设计，电子商务网站网页的美化设计，</tspan><tspan x="1046.4" y="3785.4">淘宝网店，商城的设计，</tspan></text></g>
<g class="n" id="p5-f4"><rect x="1042.2" y="3809.1" width="40.5" height="18.6"/><text x="1046.4" y="3821.3">自我评价</text></g>
<g class="n" id="p5-f5"><rect x="1042.2" y="3845.05" width="170" height="143.9"/><text><tspan x="1046.4" y="3857.3">美术绘画，有一定的绘画功底。电子商务的整</tspan><tspan x="1046.4" y="3867.7">个运作流程，从网店装修，整店模板的设计，</tspan><tspan x="1046.4" y="3878.1">logo,自定义模块的设计，首页，宝贝详情页</tspan><tspan x="1046.4" y="3888.6">，宝贝列表页等各个页面的设计。包括产品摄</tspan><tspan x="1046.4" y="3899">影，模特摄影，宝贝描述的制作与策划，爆款</tspan><tspan x="1046.4" y="3909.5">的打造与运作流程。产品的上下架，高级图片</tspan><tspan x="1046.4" y="3919.9">处理。包括分色，调色，校色。整个网店的运</tspan><tspan x="1046.4" y="3930.3">营与推广，包括直通车，钻石展位的操作流程</tspan><tspan x="1046.4" y="3940.8">。Photoshop,Illustrator等平面设计软件的</tspan><tspan x="1046.4" y="3951.2">能熟练应用与实践，擅长摄影包括产品摄影，</tspan><tspan x="1046.4" y="3961.7">模特摄影，婚妙摄影，商业摄影。高级色彩管</tspan><tspan x="1046.4" y="3972.1">理系统学习与应用，对色彩有一定的见解，有</tspan><tspan x="1046.4" y="3982.5">一定的审美能力和美学鉴赏能力。</tspan></text></g>
<g class="n" id="p5-f6"><rect x="1042.2" y="4006.4" width="40.5" height="18.6"/><text x="1046.4" y="4018.6">联系方式</text></g>
<g class="n" id="p5-f7"><rect x="1042.2" y="4042.1" width="106.3" height="18.6"/><text x="1046.4" y="4054.3">联系电话：XXXXXXXXXXX</text></g>

<!-- ===== 篇2 ===== -->
<g id="p2" class="b"><rect x="390.9" y="973.5" width="123.3" height="24.3" rx="12.1"/><text x="452.6" y="989.2">淘宝个人简历【篇2】</text></g>
<g class="n" id="p2-1"><rect x="331.4" y="201.5" width="40.4" height="18.6"/><text x="335.6" y="213.7">基本信息</text></g>
<g class="n" id="p2-2"><rect x="328.9" y="237.4" width="42.9" height="18.6"/><text x="333.1" y="249.6">姓名： xx</text></g>
<g class="n" id="p2-3"><rect x="328.9" y="273.2" width="42.9" height="18.6"/><text x="333.1" y="285.4">性别： 女</text></g>
<g class="n" id="p2-4"><rect x="308" y="309.1" width="63.8" height="18.6"/><text x="312.2" y="321.3">工作年限： 2年</text></g>
<g class="n" id="p2-5"><rect x="320.8" y="345" width="51" height="18.6"/><text x="325" y="357.2">民族： 汉族</text></g>
<g class="n" id="p2-6"><rect x="304.6" y="380.8" width="67.2" height="18.6"/><text x="308.8" y="393">最高学历： 大专</text></g>
<g class="n" id="p2-7"><rect x="295.3" y="416.7" width="76.5" height="18.6"/><text x="299.5" y="428.9">出生年月： 1990.5</text></g>
<g class="n" id="p2-8"><rect x="288" y="452.6" width="83.8" height="18.6"/><text x="292.2" y="464.8">所学专业： 电子营销</text></g>
<g class="n" id="p2-9"><rect x="323.3" y="488.8" width="48.5" height="18.6"/><text x="327.5" y="501">籍贯：浙江</text></g>
<g class="n" id="p2-10"><rect x="304.6" y="524.7" width="67.2" height="18.6"/><text x="308.8" y="536.9">现居住地： 浙江</text></g>
<g class="n" id="p2-11"><rect x="304.6" y="560.5" width="67.2" height="18.6"/><text x="308.8" y="572.7">婚姻状况： 未婚</text></g>
<g class="n" id="p2-12"><rect x="292.7" y="596.4" width="79.1" height="18.6"/><text x="296.9" y="608.6">手机： ************</text></g>
<g class="n" id="p2-13"><rect x="201.3" y="632.1" width="170.5" height="175.2"/><text><tspan x="205.5" y="644.3">邮箱： [emailprotected]/* &lt;![CDATA[ */!</tspan><tspan x="205.5" y="654.7">function(t,e,r,n,c,a,p,m,o){try{t=document.</tspan><tspan x="205.5" y="665.2">currentScript||function(){for(t=document.</tspan><tspan x="205.5" y="675.6">getElementsByTagName('script'),e=t.</tspan><tspan x="205.5" y="686.1">length;e--;)if(t[e].getAttribute('data-</tspan><tspan x="205.5" y="696.5">yjshash'))return t[e]}();if(t&amp;&amp;(c=t.</tspan><tspan x="205.5" y="706.9">previousSibling)){p=t.parentNode;if(a=c.</tspan><tspan x="205.5" y="717.4">getAttribute('data-yjsemail')){for(e='',o=0</tspan><tspan x="205.5" y="727.8">,r='0x'+a.substr(0,2)|0,n=2;a.length-n;n+</tspan><tspan x="205.5" y="738.3">=2){m=('0'+('0x'+a.substr(n,2)^r).toString</tspan><tspan x="205.5" y="748.7">(16)).slice(-2);if((a.length-n)&lt;=6&amp;&amp;(a.</tspan><tspan x="205.5" y="759.1">length&gt;=128)o=(parseInt(m)&lt;=191)?1:o*</tspan><tspan x="205.5" y="769.6">2;if(o&gt;1)break;e+='%'+m;}p.replaceChild(</tspan><tspan x="205.5" y="780">document.createTextNode(</tspan><tspan x="205.5" y="790.5">decodeURIComponent(e)),c)}p.</tspan><tspan x="205.5" y="800.9">removeChild(t)}}catch(u){}}()/* ]]&gt; */</tspan></text></g>
<g class="n" id="p2-14"><rect x="331.4" y="914.8" width="40.4" height="18.6"/><text x="335.6" y="927">求职意向</text></g>
<g class="n" id="p2-15"><rect x="331.4" y="1217.9" width="40.4" height="18.6"/><text x="335.6" y="1230.1">工作经验</text></g>
<g class="n" id="p2-16"><rect x="331.4" y="1534.8" width="40.4" height="18.6"/><text x="335.6" y="1547">教育经验</text></g>
<g class="n" id="p2-17"><rect x="295.7" y="1673.9" width="76.1" height="18.6"/><text x="299.9" y="1686.1">语言能力/技能证书</text></g>
<g class="n" id="p2-18"><rect x="331.4" y="1751.6" width="40.4" height="18.6"/><text x="335.6" y="1763.8">自我评价</text></g>
<g class="n" id="p2-q1"><rect x="228.9" y="824.6" width="83.8" height="18.6"/><text x="233.1" y="836.8">期望职位： 淘宝客服</text></g>
<g class="n" id="p2-q2"><rect x="228.9" y="860.4" width="83.8" height="18.6"/><text x="233.1" y="872.6">期望行业： 贸易行业</text></g>
<g class="n" id="p2-q3"><rect x="245.1" y="896.3" width="67.6" height="18.6"/><text x="249.3" y="908.5">期望地点： 宁波</text></g>
<g class="n" id="p2-q4"><rect x="226" y="932.1" width="86.7" height="18.6"/><text x="230.2" y="944.3">期望月薪： 2500以上</text></g>
<g class="n" id="p2-q5"><rect x="226" y="968.4" width="86.7" height="18.6"/><text x="230.2" y="980.6">工作性质： 全职/兼职</text></g>
<g class="n" id="p2-q6"><rect x="245.1" y="1004.3" width="67.6" height="18.6"/><text x="249.3" y="1016.5">到岗时间： 随时</text></g>
<g class="n" id="p2-w1"><rect x="218.3" y="1040.1" width="94.4" height="18.6"/><text x="222.5" y="1052.3">20xx-11-至20xx-03-01</text></g>
<g class="n" id="p2-w2"><rect x="142.2" y="1075.85" width="170.5" height="29.1"/><text><tspan x="146.4" y="1088.05">宁波*****有限公司( 民营/私营企业/ 50人以</tspan><tspan x="146.4" y="1098.5">内/家电业)</tspan></text></g>
<g class="n" id="p2-w3"><rect x="255.7" y="1122.5" width="57" height="18.6"/><text x="259.9" y="1134.7">淘宝售前客服</text></g>
<g class="n" id="p2-w4"><rect x="142.2" y="1158.15" width="170.5" height="81.3"/><text><tspan x="146.4" y="1170.35">工作描述：通过阿里旺旺和客户沟通，解答客</tspan><tspan x="146.4" y="1180.8">户提出的各种问题，达成交易。负责收集客户</tspan><tspan x="146.4" y="1191.2">信息，了解并分析客户需求;在各个门户网站</tspan><tspan x="146.4" y="1201.7">发布产品信息，定期或不定期进行客户回访，</tspan><tspan x="146.4" y="1212.1">以检查客户关系维护的情况;负责及时跟踪货</tspan><tspan x="146.4" y="1222.6">品发货动向，及时与用户沟通，避免用户不满</tspan><tspan x="146.4" y="1233">意。</tspan></text></g>
<g class="n" id="p2-w5"><rect x="209" y="1256.9" width="103.7" height="18.6"/><text x="213.2" y="1269.1">20xx-04-01至20xx-07-01</text></g>
<g class="n" id="p2-w6"><rect x="142.2" y="1292.65" width="170.5" height="29.1"/><text><tspan x="146.4" y="1304.85">***宁波分公司( 民营/私营企业/ 500人以上/</tspan><tspan x="146.4" y="1315.3">计算机服务)</tspan></text></g>
<g class="n" id="p2-w7"><rect x="193.6" y="1339.3" width="119.1" height="18.6"/><text x="197.8" y="1351.5">销售部门- 业务拓展专员 (全职)</text></g>
<g class="n" id="p2-w8"><rect x="142.2" y="1374.7" width="170.5" height="60.4"/><text><tspan x="146.4" y="1386.9">工作描述：从事电子支付网络的应用开发与运</tspan><tspan x="146.4" y="1397.3">营推广，面向商业零售、专业批发市场、物流</tspan><tspan x="146.4" y="1407.8">行业、大型(连锁)集团，提供包括银行卡收单</tspan><tspan x="146.4" y="1418.2">在内的收银管理一体化、资金结算、数据管理</tspan><tspan x="146.4" y="1428.7">和电子商务集成等第三方专业服</tspan></text></g>
<g class="n" id="p2-e1"><rect x="209" y="1452.4" width="103.7" height="18.6"/><text x="213.2" y="1464.6">20xx-09-01至20xx-06-01</text></g>
<g class="n" id="p2-e2"><rect x="232.3" y="1488.7" width="80.4" height="18.6"/><text x="236.5" y="1500.9">**信息技术职业学院</text></g>
<g class="n" id="p2-e3"><rect x="231.5" y="1524.6" width="81.2" height="18.6"/><text x="235.7" y="1536.8">所学专业：电子营销</text></g>
<g class="n" id="p2-e4"><rect x="261.7" y="1560.4" width="51" height="18.6"/><text x="265.9" y="1572.6">学历： 大专</text></g>
<g class="n" id="p2-e5"><rect x="142.2" y="1595.9" width="170.5" height="60.4"/><text><tspan x="146.4" y="1608.1">专业描述：市场调查与预测，营销策划理论与</tspan><tspan x="146.4" y="1618.5">实践，市场营销。企业管理概论，营销师，广</tspan><tspan x="146.4" y="1629">告学。Protel ,Auto CAD ,EDA ,PLC可编程</tspan><tspan x="146.4" y="1639.4">控制技术，模拟电子技术，数字电子技术，计</tspan><tspan x="146.4" y="1649.9">算机应用基础。本人在校成绩：前30%</tspan></text></g>
<g class="n" id="p2-c1"><rect x="206" y="1673.9" width="71" height="18.6"/><text x="210.2" y="1686.1">证书：Auto CAD</text></g>
<g class="n" id="p2-s1"><rect x="142.2" y="1709.8" width="170.5" height="102.2"/><text><tspan x="146.4" y="1722">性格属于中性性格，善于交流和沟通，市场营</tspan><tspan x="146.4" y="1732.4">销与企业管理知识较牢固，并掌握一定的营销</tspan><tspan x="146.4" y="1742.9">知识。能充分熟练地应用于实际，细心，自信</tspan><tspan x="146.4" y="1753.3">乐观，具有很强的上进心，善于发现解决问题</tspan><tspan x="146.4" y="1763.8">，能够承受较大的工作压力，能够虚心请教不</tspan><tspan x="146.4" y="1774.2">懂的事情，具有一定的沟通能力，不怕苦不怕</tspan><tspan x="146.4" y="1784.6">累，待人真诚，擅长交朋友。人际关心良好，</tspan><tspan x="146.4" y="1795.1">对事认真负责，有很强的责任心和团队意识，</tspan><tspan x="146.4" y="1805.5">具有一定的创新意识和创造能力。</tspan></text></g>

<!-- ===== 篇4 ===== -->
<g id="p4" class="b"><rect x="390.9" y="2058.5" width="123.3" height="24.3" rx="12.1"/><text x="452.6" y="2074.3">淘宝个人简历【篇4】</text></g>
<g class="n" id="p4-1"><rect x="331.4" y="1829.6" width="40.4" height="18.6"/><text x="335.6" y="1841.8">姓名：xx</text></g>
<g class="n" id="p4-2"><rect x="323.3" y="1865.1" width="48.5" height="18.6"/><text x="327.5" y="1877.3">国籍：中国</text></g>
<g class="n" id="p4-3"><rect x="315.2" y="1901.3" width="56.6" height="18.6"/><text x="319.4" y="1913.5">目前所在地：</text></g>
<g class="n" id="p4-4"><rect x="315.2" y="2026.6" width="56.6" height="18.6"/><text x="319.4" y="2038.8">户口所在地：</text></g>
<g class="n" id="p4-5"><rect x="306.7" y="2293.8" width="65.1" height="18.6"/><text x="310.9" y="2306">希望工作地区：</text></g>
<g class="n" id="p4-3-1"><rect x="248" y="1901.3" width="48.5" height="18.6"/><text x="252.2" y="1913.5">民族：汉族</text></g>
<g class="n" id="p4-h1"><rect x="226.8" y="1937.2" width="69.7" height="18.6"/><text x="231" y="1949.4">身材：xxcmxxkg</text></g>
<g class="n" id="p4-h2"><rect x="231.4" y="1973" width="65.1" height="18.6"/><text x="235.6" y="1985.2">婚姻状况：未婚</text></g>
<g class="n" id="p4-h3"><rect x="248" y="2008.7" width="48.5" height="18.6"/><text x="252.2" y="2020.9">年龄：xx岁</text></g>
<g class="n" id="p4-h4"><rect x="215.7" y="2116.5" width="80.8" height="18.6"/><text x="219.9" y="2128.7">求职意向及工作经历</text></g>
<g class="n" id="p4-j1"><rect x="115.9" y="2045.1" width="81.2" height="18.6"/><text x="120.1" y="2057.3">人才类型：普通求职</text></g>
<g class="n" id="p4-j2"><rect x="143.5" y="2080.6" width="53.6" height="18.6"/><text x="147.7" y="2092.8">工作年限：1</text></g>
<g class="n" id="p4-j3"><rect x="140.1" y="2116.5" width="57" height="18.6"/><text x="144.3" y="2128.7">职称：无职称</text></g>
<g class="n" id="p4-j4"><rect x="87.8" y="2152.3" width="109.3" height="18.6"/><text x="92" y="2164.5">求职类型：全职可到职-随时</text></g>
<g class="n" id="p4-j5"><rect x="104.4" y="2188.2" width="92.7" height="18.6"/><text x="108.6" y="2200.4">月薪要求：1500--20xx</text></g>
<g class="n" id="p4-x1"><rect x="223.4" y="2252.8" width="65.1" height="18.6"/><text x="227.6" y="2265">个人工作经历：</text></g>
<g class="n" id="p4-x2"><rect x="248.1" y="2335.2" width="40.4" height="18.6"/><text x="252.3" y="2347.4">教育背景</text></g>
<g class="n" id="p4-g1"><rect x="34.6" y="2224.35" width="170.5" height="29.1"/><text><tspan x="38.8" y="2236.55">20xx-8-1至20xx-4-1在中国电信深圳分公司</tspan><tspan x="38.8" y="2247">当售后服务员。</tspan></text></g>
<g class="n" id="p4-g2"><rect x="34.6" y="2270.45" width="170.5" height="29.1"/><text><tspan x="38.8" y="2282.65">20xx-4月至20xx-1月在xx地毯有限公司做平</tspan><tspan x="38.8" y="2293.1">面设计。</tspan></text></g>
<g class="n" id="p4-k1"><rect x="140.1" y="2317.5" width="89.3" height="18.6"/><text x="144.3" y="2329.7">毕业院校：xx工商学院</text></g>
<g class="n" id="p4-k2"><rect x="101" y="2352.9" width="128.4" height="18.6"/><text x="105.2" y="2365.1">最高学历：大专毕业-20xx-06-01</text></g>

<!-- ===== 篇6 ===== -->
<g id="p6" class="b"><rect x="390.9" y="2664.2" width="123.3" height="24.3" rx="12.1"/><text x="452.6" y="2679.9">淘宝个人简历【篇6】</text></g>
<g class="n" id="p6-1"><rect x="253.2" y="2388.8" width="118.6" height="18.6"/><text x="257.4" y="2401">姓名：*****出生年月：1992-8</text></g>
<g class="n" id="p6-2"><rect x="292.7" y="2424.7" width="79.1" height="18.6"/><text x="296.9" y="2436.9">性别：男身高：168</text></g>
<g class="n" id="p6-3"><rect x="249.8" y="2460.9" width="122" height="18.6"/><text x="254" y="2473.1">婚姻状况：未婚籍贯：湖北恩施</text></g>
<g class="n" id="p6-4"><rect x="234" y="2496.8" width="137.8" height="18.6"/><text x="238.2" y="2509">政治面貌：群众目前所在地：南方联</text></g>
<g class="n" id="p6-5"><rect x="331.4" y="2532.6" width="40.4" height="18.6"/><text x="335.6" y="2544.8">求职意向</text></g>
<g class="n" id="p6-6"><rect x="250.2" y="2568.5" width="121.6" height="18.6"/><text x="254.4" y="2580.7">期望职位：平面设计、淘宝美工</text></g>
<g class="n" id="p6-7"><rect x="242.1" y="2604.4" width="129.7" height="18.6"/><text x="246.3" y="2616.6">职位类型：全职工作地点：义乌市</text></g>
<g class="n" id="p6-8"><rect x="250.2" y="2640" width="121.6" height="18.6"/><text x="254.4" y="2652.2">工资待遇：面议住房要求：面议</text></g>
<g class="n" id="p6-9"><rect x="331.4" y="2676" width="40.4" height="18.6"/><text x="335.6" y="2688.2">工作经验</text></g>
<g class="n" id="p6-10"><rect x="310.6" y="2712" width="61.2" height="18.6"/><text x="314.8" y="2724.2">工作经验：1年</text></g>
<g class="n" id="p6-11"><rect x="323.3" y="2946" width="48.5" height="18.6"/><text x="327.5" y="2958.2">工作经历：</text></g>
<g class="n" id="p6-w1"><rect x="134.1" y="2747.85" width="170.5" height="29.1"/><text><tspan x="138.3" y="2760.05">20xx-2至20xx-6俏货批发城电子商务有限公</tspan><tspan x="138.3" y="2770.5">司企划部美工</tspan></text></g>
<g class="n" id="p6-w2"><rect x="174.9" y="2794.3" width="129.7" height="18.6"/><text x="179.1" y="2806.5">产品拍摄、图片处理、图片排版。</text></g>
<g class="n" id="p6-w3"><rect x="134.1" y="2830.15" width="170.5" height="29.1"/><text><tspan x="138.3" y="2842.35">20xx-11至20xx-12视觉设计有限公司设计部</tspan><tspan x="138.3" y="2852.8">包装设计</tspan></text></g>
<g class="n" id="p6-w4"><rect x="191.1" y="2876.6" width="113.5" height="18.6"/><text x="195.3" y="2888.8">袜标设计包装盒设计图片处理</text></g>
<g class="n" id="p6-w5"><rect x="134.1" y="2912.45" width="170.5" height="29.1"/><text><tspan x="138.3" y="2924.65">20xx-1至20xx-2龙行设计有限公司设计部设</tspan><tspan x="138.3" y="2935.1">计</tspan></text></g>
<g class="n" id="p6-w6"><rect x="174.9" y="2958.9" width="129.7" height="18.6"/><text x="179.1" y="2971.1">图片处理礼品包装盒设计、包装。</text></g>
<g class="n" id="p6-w7"><rect x="174.9" y="2994.8" width="129.7" height="18.6"/><text x="179.1" y="3007">图片设计、制版、画册、淘宝美工</text></g>
<g class="n" id="p6-w8"><rect x="264.2" y="3030.9" width="40.4" height="18.6"/><text x="268.4" y="3043.1">教育背景</text></g>
<g class="n" id="p6-w9"><rect x="158.8" y="3066.4" width="145.8" height="18.6"/><text x="163" y="3078.6">学历：高中毕业院校：新东方外语学校</text></g>
<g class="n" id="p6-w10"><rect x="152.4" y="3102.4" width="152.2" height="18.6"/><text x="156.6" y="3114.6">所学专业：平面设计毕业时间：20xx-10</text></g>
<g class="n" id="p6-w11"><rect x="215.7" y="3138.4" width="88.9" height="18.6"/><text x="219.9" y="3150.6">第一外语：水平：普通</text></g>
<g class="n" id="p6-w11-1"><rect x="66.9" y="3138.4" width="129.7" height="18.6"/><text x="71.1" y="3150.6">计算机能力：熟练其它能力：美工</text></g>
</svg>
